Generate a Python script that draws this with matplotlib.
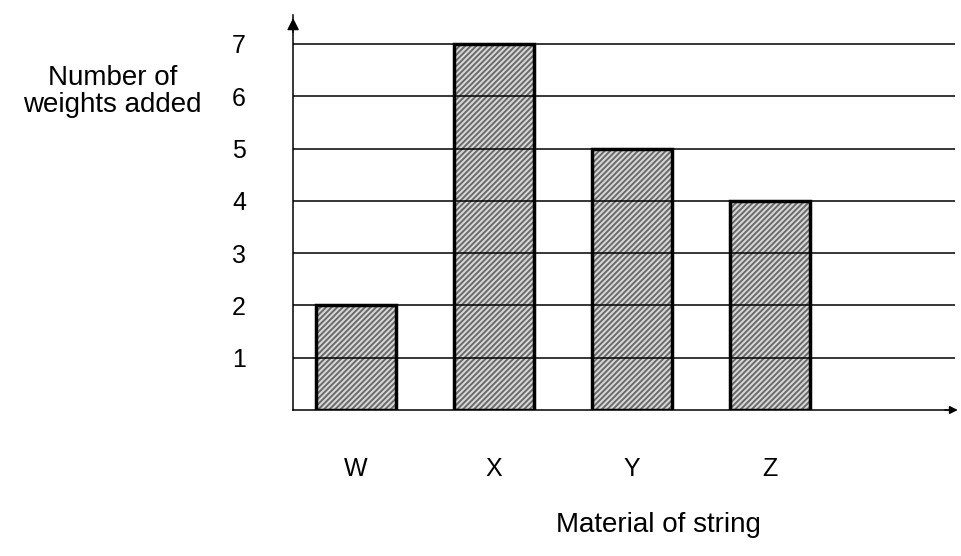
import matplotlib.pyplot as plt
import numpy as np

materials = ['W', 'X', 'Y', 'Z']
weights = [2, 7, 5, 4]
y_ticks = [1, 2, 3, 4, 5, 6, 7]

plt.rcParams['font.family'] = ['Liberation Sans', 'DejaVu Sans']
plt.rcParams['hatch.linewidth'] = 1.4
plt.rcParams['hatch.color'] = '#6a6a6a'

fig = plt.figure(figsize=(9.61, 5.56), dpi=100)
ax = fig.add_axes([0.305, 0.2626, 0.689, 0.710])

pos = np.arange(len(materials))
# hatched fill, then black outline on top
ax.bar(pos, weights, width=0.58, color='#d8d8d8', hatch='//////',
       edgecolor='#6a6a6a', linewidth=0, zorder=2)
ax.bar(pos, weights, width=0.58, fill=False, edgecolor='black',
       linewidth=2.5, zorder=4)

for y in y_ticks:
    ax.axhline(y, color='black', linewidth=1.1, zorder=3)

ax.set_xlim(-0.457, 4.34)
ax.set_ylim(0, 7.55)

for s in ['top', 'right']:
    ax.spines[s].set_visible(False)
for s in ['left', 'bottom']:
    ax.spines[s].set_linewidth(1.1)

ax.set_yticks(y_ticks)
ax.set_yticklabels([str(v) for v in y_ticks], fontsize=18)
ax.tick_params(axis='y', length=0, pad=34)
ax.set_xticks([])

for i, m in enumerate(materials):
    ax.text(i, -1.13, m, fontsize=18, ha='center', va='center',
            clip_on=False)

# axis arrows
ax.annotate('', xy=(0, 1.0), xytext=(0, 0.95), xycoords='axes fraction',
            arrowprops=dict(arrowstyle='-|>', color='black', lw=1,
                            mutation_scale=18))
ax.annotate('', xy=(1.008, 0), xytext=(0.98, 0), xycoords='axes fraction',
            arrowprops=dict(arrowstyle='-|>', color='black', lw=1,
                            mutation_scale=12))

fig.text(0.117, 0.835, 'Number of\nweights added', fontsize=20,
         ha='center', va='center', linespacing=1.05)
fig.text(0.685, 0.056, 'Material of string', fontsize=20,
         ha='center', va='center')

fig.savefig('out.png', dpi=100)
